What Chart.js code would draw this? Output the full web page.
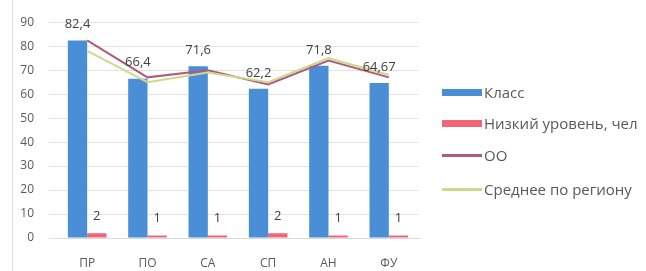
<!DOCTYPE html>
<html>
<head>
<meta charset="utf-8">
<script src="https://cdn.jsdelivr.net/npm/chart.js@4.4.1/dist/chart.umd.min.js"></script>
<style>
  html, body { margin: 0; padding: 0; background: #fff; }
  #wrap { position: relative; width: 646px; height: 271px; }
  #frame { position: absolute; left: 12px; top: 0; width: 0; height: 271px; border-left: 1px solid #dcdcdc; }
  #legend { position: absolute; left: 442px; top: 0; font: 15px "Open Sans", sans-serif; color: #595959; }
  .item { position: absolute; left: 0; white-space: nowrap; height: 18px; line-height: 18px; }
  .sw { position: absolute; left: 0; width: 40px; }
  .txt { position: absolute; left: 42px; top: 0; }
</style>
</head>
<body>
<div id="wrap">
  <div id="frame"></div>
  <canvas id="chart" width="646" height="271"></canvas>
  <div id="legend"></div>
</div>
<script>
// 데이터 ==============================================================
const categories = ['ПР', 'ПО', 'СА', 'СП', 'АН', 'ФУ'];
const klassValues = [82.4, 66.4, 71.6, 62.2, 71.8, 64.67];   // Класс
const lowValues = [2, 1, 1, 2, 1, 1];                        // Низкий уровень, чел
const ooValues = [82.4, 67, 70, 64, 74, 67];                  // ОО
const regionValues = [78, 65, 69, 65, 75, 68];               // Среднее по региону
const yTicks = [0, 10, 20, 30, 40, 50, 60, 70, 80, 90];

const FONT = '"Open Sans", sans-serif';

// 막대 위에 값 표시
const valueLabels = {
  id: 'valueLabels',
  afterDatasetsDraw(chart) {
    const ctx = chart.ctx;
    ctx.save();
    ctx.font = '13px ' + FONT;
    ctx.fillStyle = '#404040';
    ctx.textAlign = 'center';
    ctx.textBaseline = 'middle';
    [0, 1].forEach((di) => {
      const meta = chart.getDatasetMeta(di);
      const data = chart.data.datasets[di].data;
      meta.data.forEach((bar, i) => {
        const txt = String(data[i]).replace('.', ',');
        const off = di === 0 ? 16 : 17;
        ctx.fillText(txt, bar.x, bar.y - off);
      });
    });
    ctx.restore();
  }
};

const ctx = document.getElementById('chart');
const chart = new Chart(ctx, {
  type: 'bar',
  data: {
    labels: categories,
    datasets: [
      {
        label: 'Класс',
        data: klassValues,
        backgroundColor: '#4a8ed6',
        borderWidth: 0,
        categoryPercentage: 0.64,
        barPercentage: 1,
        order: 2
      },
      {
        label: 'Низкий уровень, чел',
        data: lowValues,
        backgroundColor: '#ee6677',
        borderWidth: 0,
        categoryPercentage: 0.64,
        barPercentage: 1,
        order: 2
      },
      {
        type: 'line',
        label: 'ОО',
        data: ooValues,
        borderColor: '#b05a7e',
        backgroundColor: '#b05a7e',
        borderWidth: 2,
        pointRadius: 0,
        tension: 0,
        order: 1
      },
      {
        type: 'line',
        label: 'Среднее по региону',
        data: regionValues,
        borderColor: '#cdd98c',
        backgroundColor: '#cdd98c',
        borderWidth: 2,
        pointRadius: 0,
        tension: 0,
        order: 0
      }
    ]
  },
  options: {
    responsive: false,
    animation: false,
    layout: { padding: { left: 0, top: 12, right: 227, bottom: 0 } },
    scales: {
      x: {
        grid: { display: false },
        border: { display: true, color: '#d9d9d9' },
        afterFit: (axis) => { axis.height = 33; },
        ticks: { color: '#595959', font: { family: FONT, size: 12 }, padding: 10 }
      },
      y: {
        min: 0,
        max: 90,
        afterBuildTicks: (axis) => { axis.ticks = yTicks.map((v) => ({ value: v })); },
        afterFit: (axis) => { axis.width = 57; },
        grid: { color: '#e3e3e3' },
        border: { display: false },
        ticks: { color: '#595959', font: { family: FONT, size: 12 }, padding: 15 }
      }
    },
    plugins: {
      tooltip: { enabled: false },
      legend: { display: false }
    }
  },
  plugins: [valueLabels]
});

// 레전드 (HTML)
const legendRows = [92, 123, 155, 189];
const legendEl = document.getElementById('legend');
chart.data.datasets.forEach((ds, i) => {
  const item = document.createElement('div');
  item.className = 'item';
  item.style.top = (legendRows[i] - 9) + 'px';
  const sw = document.createElement('div');
  sw.className = 'sw';
  const h = ds.type === 'line' ? 3 : 7;
  sw.style.height = h + 'px';
  sw.style.top = (9 - h / 2) + 'px';
  sw.style.background = ds.type === 'line' ? ds.borderColor : ds.backgroundColor;
  const txt = document.createElement('span');
  txt.className = 'txt';
  txt.textContent = ds.label;
  item.appendChild(sw);
  item.appendChild(txt);
  legendEl.appendChild(item);
});
</script>
</body>
</html>
